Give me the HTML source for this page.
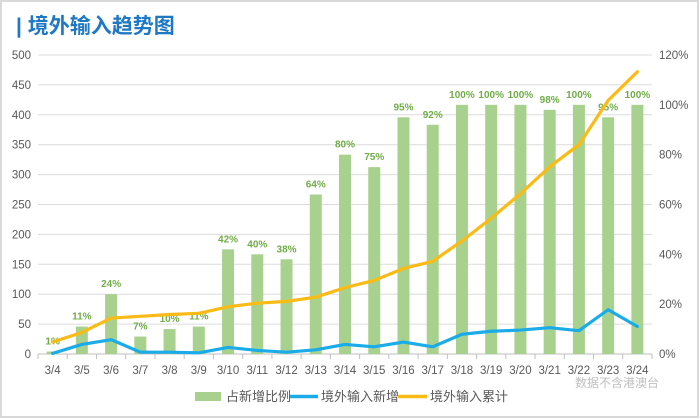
<!DOCTYPE html>
<html><head><meta charset="utf-8"><style>
html,body{margin:0;padding:0;background:#fff;}
svg{display:block;font-family:"Liberation Sans","Noto Sans CJK SC",sans-serif;}
</style></head><body>
<svg id="c" width="700" height="419">
<rect x="1" y="1" width="697" height="416" fill="#fff" stroke="#d9d9d9" stroke-width="2"/>
<text x="16" y="33" font-size="21" font-weight="bold" fill="#1f78c4">| 境外输入趋势图</text>
<g id="grid"></g><g id="bars"></g><g id="lines"></g><g id="axes"></g>
<g>
<rect x="195" y="392" width="26" height="9" fill="#a9d18e"/>
<text x="226" y="401" font-size="13" fill="#595959">占新增比例</text>
<line x1="290" y1="396.5" x2="318" y2="396.5" stroke="#1aabe8" stroke-width="3.5"/>
<text x="321" y="401" font-size="13" fill="#595959">境外输入新增</text>
<line x1="398" y1="396.5" x2="427" y2="396.5" stroke="#fbbb16" stroke-width="3.5"/>
<text x="430" y="401" font-size="13" fill="#595959">境外输入累计</text>
</g>
<text x="575" y="387" font-size="12" fill="#bfbfbf">数据不含港澳台</text>
</svg>
<script>
const categories=["3/4","3/5","3/6","3/7","3/8","3/9","3/10","3/11","3/12","3/13","3/14","3/15","3/16","3/17","3/18","3/19","3/20","3/21","3/22","3/23","3/24"];
const ratioPct=[1,11,24,7,10,11,42,40,38,64,80,75,95,92,100,100,100,98,100,95,100];
const newCases=[1,16,24,3,3,2,11,6,3,7,16,12,20,12,33,38,40,44,39,74,46];
const totalCases=[20,36,60,63,66,68,79,85,88,95,111,123,143,155,189,227,268,313,350,424,472];
const leftTicks=[0,50,100,150,200,250,300,350,400,450,500];
const rightTicks=[0,20,40,60,80,100,120];
const NS="http://www.w3.org/2000/svg";
const L=38,R=652,T=55,B=354;
const bw=(R-L)/categories.length;
const xC=i=>L+bw*(i+0.5);
const yL=v=>B-(v/500)*(B-T);
const yR=v=>B-(v/120)*(B-T);
function mk(tag,attrs,parent,txt){const e=document.createElementNS(NS,tag);for(const k in attrs)e.setAttribute(k,attrs[k]);if(txt!==undefined)e.textContent=txt;document.getElementById(parent).appendChild(e);return e;}
leftTicks.forEach(v=>{
 const g=mk("line",{x1:L,x2:R,y1:yL(v),y2:yL(v),stroke:v===0?"#bfbfbf":"#dcdcdc","stroke-width":1},"grid");
 
 
 const t=mk("text",{x:31,y:yL(v)+4,"text-anchor":"end","font-size":11.5,fill:"#595959"},"axes",String(v));
 
 
});
rightTicks.forEach(v=>{
 const t=mk("text",{x:659,y:yR(v)+4,"font-size":11.5,fill:"#595959"},"axes",v+"%");
 
 
});
categories.forEach((c,i)=>{
 const tk=mk("line",{x1:L+bw*i,x2:L+bw*i,y1:B,y2:B+5,stroke:"#bfbfbf"},"axes");
 
 
 const t=mk("text",{x:xC(i),y:374,"text-anchor":"middle","font-size":11.5,fill:"#595959"},"axes",c);
 
 
 const w=12;
 const b=mk("rect",{x:xC(i)-w/2,y:yR(ratioPct[i]),width:w,height:B-yR(ratioPct[i]),fill:"#a9d18e"},"bars");
 
 
 const lb=mk("text",{x:xC(i),y:yR(ratioPct[i])-7,"text-anchor":"middle","font-size":10,"font-weight":"bold",fill:"#70ad47"},"bars",ratioPct[i]+"%");
 
 
});
const tr=mk("line",{x1:R,x2:R,y1:B,y2:B+5,stroke:"#bfbfbf"},"axes");


function line(data,color,name){
 const p=mk("polyline",{points:data.map((v,i)=>xC(i)+","+yL(v)).join(" "),fill:"none",stroke:color,"stroke-width":3.2,"stroke-linejoin":"round","stroke-linecap":"round"},"lines");
 
 
}
line(totalCases,"#fbbb16","line-total-imported");
line(newCases,"#1aabe8","line-new-imported");
</script>
</body></html>
